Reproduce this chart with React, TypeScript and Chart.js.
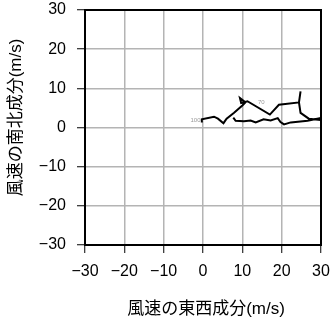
import React, { useEffect, useRef } from "react";
import { Chart, registerables } from "chart.js";

Chart.register(...registerables);

const uValues = [-0.3, -0.3, 2.8, 3.8, 5.2, 6.0, 7.9, 10.0, 10.8, 9.4, 9.7, 11.3, 17.0, 19.3, 24.4, 24.8, 24.4, 24.8, 26.9, 29.9, 31, 29.9, 26.6, 22.3, 20.6, 19.7, 19.0, 17.2, 15.4, 13.4, 12.1, 10.4, 8.3, 7.7];
const vValues = [1.25, 2.1, 2.75, 2.25, 1.1, 2.25, 3.75, 5.6, 6.4, 7.5, 6.25, 6.7, 3.3, 5.8, 6.4, 9.2, 6.4, 3.75, 2.25, 1.9, 2.1, 2.4, 1.7, 1.3, 0.8, 1.4, 2.4, 1.8, 2.1, 1.3, 1.8, 1.6, 1.7, 2.5];
const levelLabels = ["100", "70"];
const levelU = [-1.9, 14.8];
const levelV = [1.8, 6.3];
const tickValues = [-30, -20, -10, 0, 10, 20, 30];
const xTitle = "風速の東西成分(m/s)";
const yTitle = "風速の南北成分(m/s)";

const FONT = "'Liberation Sans', Arial, 'Noto Sans CJK JP', sans-serif";

const fmt = (v: number) => (v < 0 ? "\u2212" + Math.abs(v) : String(v));

export default function App() {
  const ref = useRef<HTMLCanvasElement | null>(null);
  useEffect(() => {
    document.body.style.margin = "0";
    const canvas = ref.current!;
    const framePlugin = {
      id: "frame",
      afterDatasetsDraw(chart: any) {
        const { ctx, chartArea: a, scales } = chart;
        ctx.save();
        ctx.strokeStyle = "#000";
        ctx.lineWidth = 2;
        ctx.strokeRect(a.left, a.top, a.right - a.left, a.bottom - a.top);
        ctx.fillStyle = "#999";
        ctx.font = "6px " + FONT;
        ctx.textAlign = "center";
        ctx.textBaseline = "middle";
        levelLabels.forEach((t, i) => {
          ctx.fillText(t, scales.x.getPixelForValue(levelU[i]), scales.y.getPixelForValue(levelV[i]));
        });
        ctx.fillStyle = "#000";
        ctx.font = "17px " + FONT;
        ctx.fillText(xTitle, a.left + (a.right - a.left) / 2 + 3, 309);
        ctx.translate(16, a.top + (a.bottom - a.top) / 2 - 10);
        ctx.rotate(-Math.PI / 2);
        ctx.fillText(yTitle, 0, 0);
        ctx.restore();
      },
    };
    const chart = new Chart(canvas, {
      type: "scatter",
      data: {
        datasets: [
          {
            data: uValues.map((u, i) => ({ x: u, y: vValues[i] })),
            showLine: true,
            borderColor: "#000",
            borderWidth: 2,
            pointRadius: 0,
            fill: false,
            tension: 0,
          },
        ],
      },
      options: {
        animation: false,
        responsive: false,
        maintainAspectRatio: false,
        layout: { padding: { top: 10, right: 10, left: 0, bottom: 0 } },
        plugins: { legend: { display: false }, tooltip: { enabled: false } },
        scales: {
          x: {
            type: "linear",
            min: -30,
            max: 30,
            afterBuildTicks: (s: any) => {
              s.ticks = tickValues.map((v) => ({ value: v }));
            },
            afterFit: (s: any) => {
              s.height = 73;
              s.paddingLeft = 0;
              s.paddingRight = 0;
            },
            grid: { color: "#b4b4b4", lineWidth: 1.5, tickColor: "#000", tickLength: 8, tickWidth: 1 },
            border: { display: false },
            ticks: { color: "#000", font: { family: FONT, size: 16 }, padding: 9, maxRotation: 0, callback: (v: any) => fmt(Number(v)) },
          },
          y: {
            type: "linear",
            min: -30,
            max: 30,
            afterBuildTicks: (s: any) => {
              s.ticks = tickValues.map((v) => ({ value: v }));
            },
            afterFit: (s: any) => {
              s.width = 85;
              s.paddingTop = 0;
              s.paddingBottom = 0;
            },
            grid: { color: "#b4b4b4", lineWidth: 1.5, tickColor: "#000", tickLength: 8, tickWidth: 1 },
            border: { display: false },
            ticks: { color: "#000", font: { family: FONT, size: 16 }, padding: 11, callback: (v: any) => fmt(Number(v)) },
          },
        },
      },
      plugins: [framePlugin],
    });
    return () => chart.destroy();
  }, []);
  return (
    <div style={{ width: 331, height: 318 }}>
      <canvas ref={ref} width={331} height={318} style={{ display: "block" }} />
    </div>
  );
}
